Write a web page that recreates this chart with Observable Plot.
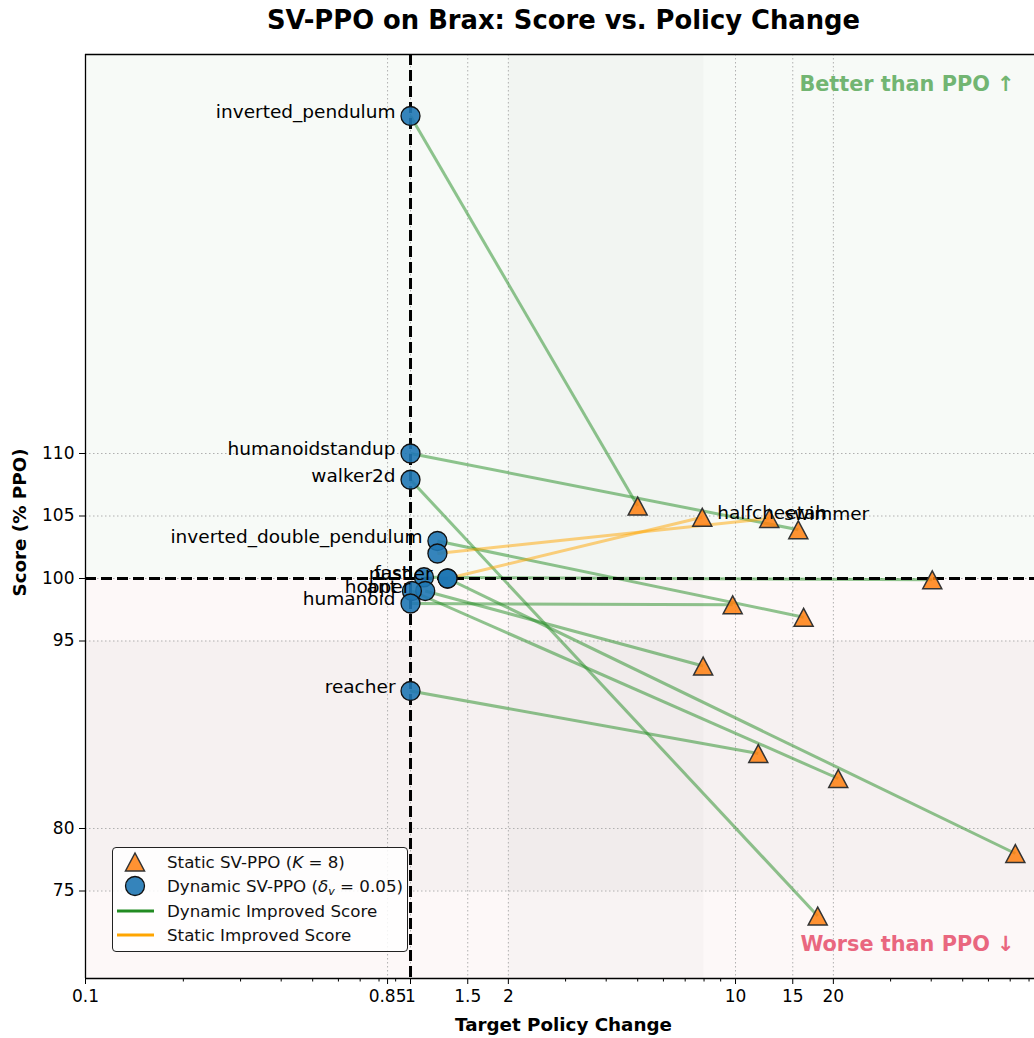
<!DOCTYPE html>
<html>
<head>
<meta charset="utf-8">
<script src="https://cdn.jsdelivr.net/npm/d3@7"></script>
<script src="https://cdn.jsdelivr.net/npm/@observablehq/plot@0.6"></script>
<style>
  html, body { margin: 0; padding: 0; background: #fff; overflow: hidden; }
  #wrap { position: relative; width: 1034px; height: 1038px; }
  #legend { position: absolute; left: 112px; top: 847px; width: 294px; height: 103px;
    border: 1px solid #222; border-radius: 4px; background: rgba(255,255,255,0.85);
    font-family: "DejaVu Sans"; font-size: 16.7px; color: #111; }
  .row { position: absolute; left: 0; height: 24px; width: 294px; }
  .row svg { position: absolute; left: 0; top: 0; }
  .row span { position: absolute; left: 54px; top: 0; line-height: 24px; white-space: nowrap; }
  i { font-style: italic; }
  sub { font-size: 11px; vertical-align: -3px; line-height: 0; }
</style>
</head>
<body>
<div id="wrap">
  <div id="chart"></div>
  <div id="legend">
    <div class="row" style="top:2px">
      <svg width="46" height="24"><polygon points="22,3 31.5,21 12.5,21" fill="#ff7f0e" fill-opacity="0.85" stroke="#333" stroke-width="1.5"/></svg>
      <span>Static SV-PPO (<i>K</i> = 8)</span>
    </div>
    <div class="row" style="top:26px">
      <svg width="46" height="24"><circle cx="22" cy="12" r="9.5" fill="#1f77b4" fill-opacity="0.9" stroke="#111" stroke-width="1.3"/></svg>
      <span>Dynamic SV-PPO (<i>δ<sub>v</sub></i> = 0.05)</span>
    </div>
    <div class="row" style="top:51px">
      <svg width="46" height="24"><line x1="4" x2="41" y1="12" y2="12" stroke="#228b22" stroke-width="3"/></svg>
      <span>Dynamic Improved Score</span>
    </div>
    <div class="row" style="top:75px">
      <svg width="46" height="24"><line x1="4" x2="41" y1="12" y2="12" stroke="#ffa500" stroke-width="3"/></svg>
      <span>Static Improved Score</span>
    </div>
  </div>
</div>
<script>
// ---------- data ----------
const envs = ["inverted_pendulum", "humanoidstandup", "walker2d", "inverted_double_pendulum",
  "swimmer", "halfcheetah", "fast", "pusher", "hopper", "ant", "humanoid", "reacher"];
const dynChange  = [1.0, 1.0, 1.0, 1.21, 1.21, 1.30, 1.10, 1.30, 1.11, 1.01, 1.0, 1.0];
const dynScore   = [137.0, 110.0, 107.9, 103.0, 102.0, 100.0, 100.1, 100.0, 99.0, 99.0, 98.0, 91.0];
const statChange = [5.0, 15.6, 17.9, 16.2, 12.7, 7.9, 40.3, 72.6, 7.95, 20.7, 9.8, 11.75];
const statScore  = [105.8, 103.9, 73.0, 96.9, 104.8, 104.9, 99.9, 78.0, 93.0, 84.0, 97.9, 86.0];

const xTicks = [0.1, 0.85, 1, 1.5, 2, 10, 15, 20];
const xTickLabels = ["0.1", "0.85", "1", "1.5", "2", "10", "15", "20"];
const xMinorTicks = [0.2, 0.3, 0.4, 0.5, 0.6, 0.7, 0.8, 0.9, 3, 4, 5, 6, 7, 8, 9, 30, 40, 50, 60, 70, 80];
const yTicks = [75, 80, 95, 100, 105, 110];

const xDomain = [0.1, 88];
const yDomain = [68, 141.92];
const ppoChange = [1];
const ppoScore = [100];
const bandX = [2, 8];
const bandY = [75, 95];

// ---------- build ----------
const rows = envs.map((env, i) => ({
  env, dx: dynChange[i], dy: dynScore[i], sx: statChange[i], sy: statScore[i],
  dynBetter: dynScore[i] >= statScore[i]
}));
const xTickRows = xTicks.map((v, i) => ({ v, label: xTickLabels[i] }));

const triUp = {
  draw(ctx, size) {
    const r = Math.sqrt(size / Math.PI);
    const w = r * 1.284, h = r * 1.2;
    ctx.moveTo(0, -h);
    ctx.lineTo(w, h);
    ctx.lineTo(-w, h);
    ctx.closePath();
  }
};

const one = [{}];
const plot = Plot.plot({
  width: 1034, height: 1038,
  marginLeft: 85, marginRight: 0, marginTop: 54, marginBottom: 60,
  style: { fontFamily: "DejaVu Sans", fontSize: "16.7px", background: "white", overflow: "hidden", color: "black" },
  x: { type: "log", domain: xDomain, range: [85, 1042], label: null },
  y: { domain: yDomain, label: null },
  marks: [
    // region backgrounds
    Plot.rect(one, { x1: () => xDomain[0], x2: () => xDomain[1], y1: () => ppoScore[0], y2: () => yDomain[1], fill: "#f7faf7" }),
    Plot.rect(one, { x1: () => xDomain[0], x2: () => xDomain[1], y1: () => yDomain[0], y2: () => ppoScore[0], fill: "#fdf8f8" }),
    Plot.rect(one, { x1: () => bandX[0], x2: () => bandX[1], y1: () => yDomain[0], y2: () => yDomain[1], fill: "#000", fillOpacity: 0.02 }),
    Plot.rect(one, { x1: () => xDomain[0], x2: () => xDomain[1], y1: () => bandY[0], y2: () => bandY[1], fill: "#000", fillOpacity: 0.028 }),
    // grid
    Plot.ruleX(xTicks.filter(t => t > xDomain[0]), { stroke: "#b0b0b0", strokeWidth: 1, strokeDasharray: "1.5,2.5" }),
    Plot.ruleY(yTicks, { stroke: "#b0b0b0", strokeWidth: 1, strokeDasharray: "1.5,2.5" }),
    // connecting lines
    Plot.link(rows.filter(d => d.dynBetter), { x1: "dx", y1: "dy", x2: "sx", y2: "sy", stroke: "#228b22", strokeOpacity: 0.5, strokeWidth: 3 }),
    Plot.link(rows.filter(d => !d.dynBetter), { x1: "dx", y1: "dy", x2: "sx", y2: "sy", stroke: "#ffa500", strokeOpacity: 0.5, strokeWidth: 3 }),
    // PPO reference lines
    Plot.ruleX(ppoChange, { stroke: "black", strokeWidth: 3, strokeDasharray: "11,5" }),
    Plot.ruleY(ppoScore, { stroke: "black", strokeWidth: 3, strokeDasharray: "11,5" }),
    // markers
    Plot.dot(rows, { x: "sx", y: "sy", symbol: triUp, r: 7.4, fill: "#ff7f0e", fillOpacity: 0.85, stroke: "#333", strokeWidth: 1.5 }),
    Plot.dot(rows, { x: "dx", y: "dy", r: 9.5, fill: "#1f77b4", fillOpacity: 0.9, stroke: "#111", strokeWidth: 1.3 }),
    // labels
    Plot.text(rows.filter(d => d.dynBetter), { x: "dx", y: "dy", text: "env", textAnchor: "end", dx: -15, dy: -4, fontSize: 18.5, fill: "black" }),
    Plot.text(rows.filter(d => !d.dynBetter), { x: "sx", y: "sy", text: "env", textAnchor: "start", dx: 15, dy: -4, fontSize: 18.5, fill: "black" }),
    // frame spines
    Plot.ruleX([xDomain[0]], { stroke: "black", strokeWidth: 1.3 }),
    Plot.ruleY([yDomain[0]], { stroke: "black", strokeWidth: 1.3 }),
    Plot.ruleY([yDomain[1]], { stroke: "black", strokeWidth: 1.3 }),
    // axes
    Plot.axisX(xTicks, { tickSize: 6, text: null, label: null }),
    Plot.text(xTickRows, { x: "v", text: "label", frameAnchor: "bottom", lineAnchor: "top", textAnchor: "middle", dy: 11, fontSize: 17, fill: "black" }),
    Plot.axisX(xMinorTicks, { tickSize: 3.5, text: null, label: null }),
    Plot.axisY(yTicks, { tickSize: 6, tickPadding: 5, tickFormat: d => String(d), fontSize: 17, label: null }),
    // region annotations
    Plot.text(["Better than PPO \u2191"], { frameAnchor: "top-right", textAnchor: "end", dx: -20, dy: 22, fontSize: 20.8, fontWeight: "bold", fill: "#72b572" }),
    Plot.text(["Worse than PPO \u2193"], { frameAnchor: "bottom-right", textAnchor: "end", dx: -20, dy: -28, fontSize: 20.8, fontWeight: "bold", fill: "#e9677f" }),
    // titles
    Plot.text(["SV-PPO on Brax: Score vs. Policy Change"], { frameAnchor: "top", textAnchor: "middle", dx: 3.5, dy: -44, fontSize: 25.8, fontWeight: "bold", fill: "black" }),
    Plot.text(["Target Policy Change"], { frameAnchor: "bottom", textAnchor: "middle", dx: 3.5, dy: 52, fontSize: 18.3, fontWeight: "bold", fill: "black" }),
    Plot.text(["Score (% PPO)"], { frameAnchor: "left", textAnchor: "middle", dx: -65, dy: 6, rotate: -90, fontSize: 18.3, fontWeight: "bold", fill: "black" })
  ]
});
document.getElementById("chart").appendChild(plot);
</script>
</body>
</html>
